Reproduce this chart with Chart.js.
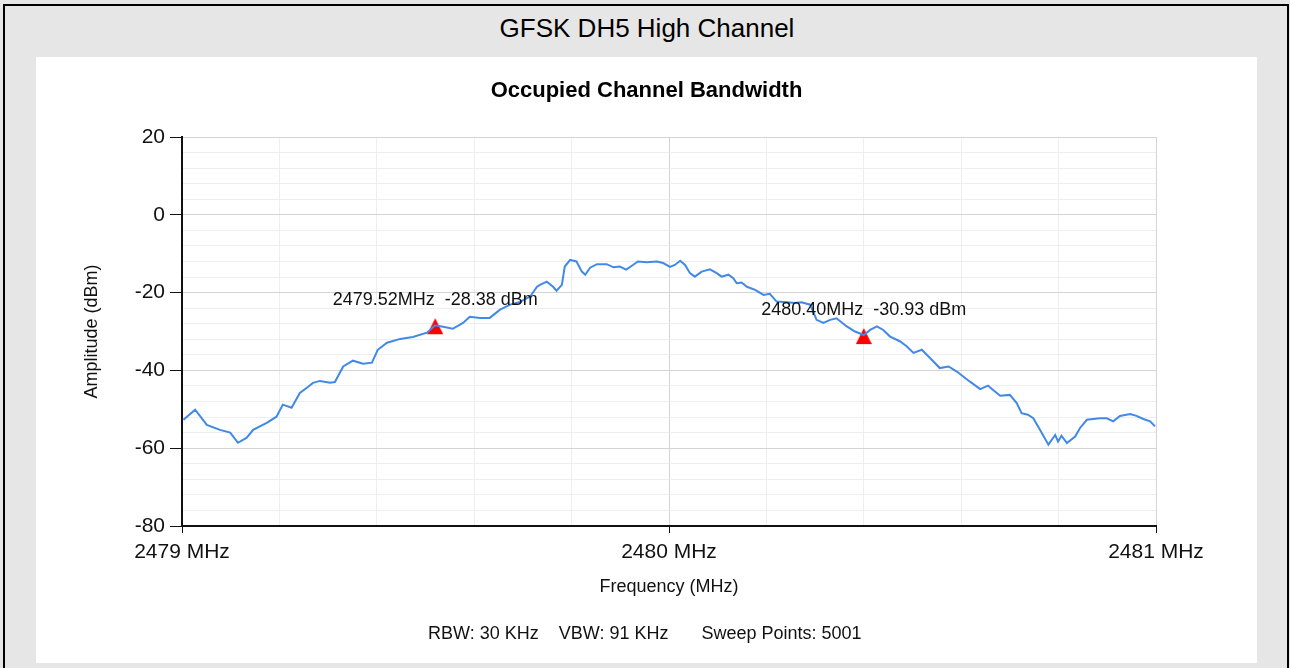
<!DOCTYPE html>
<html>
<head>
<meta charset="utf-8">
<script src="https://cdn.jsdelivr.net/npm/chart.js@4.4.1/dist/chart.umd.min.js"></script>
<style>
  html, body { margin:0; padding:0; }
  body { width:1290px; height:668px; background:#e6e6e6; position:relative; overflow:hidden; font-family:"Liberation Sans", Arial, sans-serif; }
  #frame { position:absolute; left:3px; top:4px; width:1282px; height:700px; border:2px solid #000; border-bottom:none; }
  #pageTitle { position:absolute; left:0; width:1294px; top:13px; height:30px; line-height:30px; text-align:center; font-size:26px; color:#000; }
  #panel { position:absolute; left:36px; top:57px; width:1221px; height:606px; background:#fff; }
  #chartTitle { position:absolute; left:36px; width:1221px; top:77px; height:26px; line-height:26px; text-align:center; font-size:22px; font-weight:bold; color:#000; }
  #footer { position:absolute; left:428px; top:623px; height:20px; line-height:20px; font-size:18px; color:#111; white-space:pre; }
</style>
</head>
<body>
<div id="frame"></div>
<div id="pageTitle">GFSK DH5 High Channel</div>
<div id="panel"><canvas id="c"></canvas></div>
<div id="chartTitle"></div>
<div id="footer"><span>RBW: 30 KHz</span><span style="margin-left:20px">VBW: 91 KHz</span><span style="margin-left:33px">Sweep Points: 5001</span></div>
<script>
// ---- data ----
const chartTitle = 'Occupied Channel Bandwidth';
const xAxisTitle = 'Frequency (MHz)';
const yAxisTitle = 'Amplitude (dBm)';

const freqs = [2479.003, 2479.027, 2479.051, 2479.078, 2479.099, 2479.115, 2479.133, 2479.146, 2479.174, 2479.194,
  2479.207, 2479.225, 2479.242, 2479.259, 2479.269, 2479.283, 2479.304, 2479.314, 2479.331, 2479.351,
  2479.372, 2479.390, 2479.402, 2479.421, 2479.448, 2479.474, 2479.503, 2479.520, 2479.536, 2479.556,
  2479.577, 2479.591, 2479.612, 2479.632, 2479.653, 2479.674, 2479.694, 2479.715, 2479.729, 2479.735,
  2479.749, 2479.762, 2479.769, 2479.780, 2479.786, 2479.797, 2479.810, 2479.821, 2479.828, 2479.838,
  2479.852, 2479.872, 2479.886, 2479.899, 2479.912, 2479.926, 2479.936, 2479.954, 2479.975, 2479.988,
  2480.002, 2480.012, 2480.023, 2480.033, 2480.043, 2480.053, 2480.067, 2480.084, 2480.098, 2480.108,
  2480.122, 2480.132, 2480.139, 2480.149, 2480.160, 2480.177, 2480.194, 2480.207, 2480.221, 2480.242,
  2480.259, 2480.272, 2480.290, 2480.303, 2480.317, 2480.331, 2480.344, 2480.365, 2480.382, 2480.400,
  2480.413, 2480.427, 2480.440, 2480.454, 2480.474, 2480.488, 2480.502, 2480.519, 2480.536, 2480.556,
  2480.574, 2480.591, 2480.618, 2480.639, 2480.655, 2480.665, 2480.680, 2480.700, 2480.714, 2480.724,
  2480.737, 2480.748, 2480.762, 2480.779, 2480.793, 2480.799, 2480.806, 2480.817, 2480.834, 2480.844,
  2480.858, 2480.871, 2480.885, 2480.899, 2480.912, 2480.926, 2480.947, 2480.960, 2480.974, 2480.988,
  2480.998];

const amps = [-52.7, -50.1, -54.0, -55.3, -56.0, -58.6, -57.3, -55.3, -53.5, -51.9,
  -48.8, -49.6, -45.8, -44.2, -43.2, -42.7, -43.2, -43.0, -39.0, -37.5,
  -38.3, -38.0, -34.7, -32.9, -31.9, -31.4, -30.3, -28.4, -28.8, -29.3,
  -27.8, -26.2, -26.5, -26.5, -24.4, -23.1, -22.4, -21.0, -18.5, -18.0,
  -17.2, -18.5, -19.5, -18.0, -13.3, -11.6, -12.0, -14.6, -15.4, -13.6,
  -12.7, -12.7, -13.5, -13.3, -14.1, -12.9, -12.0, -12.2, -12.0, -12.4,
  -13.4, -12.9, -11.8, -12.9, -15.0, -15.9, -14.6, -14.0, -15.0, -15.9,
  -15.4, -16.3, -17.6, -17.4, -18.5, -19.3, -20.6, -20.3, -22.3, -22.5,
  -22.7, -22.5, -23.1, -27.0, -27.8, -27.0, -26.6, -28.7, -30.0, -30.9,
  -29.6, -28.7, -29.6, -31.3, -32.5, -33.8, -35.5, -34.7, -36.8, -39.4,
  -39.0, -40.3, -42.9, -44.8, -43.9, -45.0, -46.5, -46.3, -48.4, -51.0,
  -51.4, -52.3, -55.3, -59.1, -56.6, -58.3, -56.8, -58.7, -57.0, -54.8,
  -52.7, -52.5, -52.3, -52.3, -53.1, -51.7, -51.2, -51.7, -52.5, -53.1,
  -54.4];

const markerFreqs = [2479.52, 2480.40];
const markerAmps = [-28.38, -30.93];

const xMin = 2479, xMax = 2481, xStep = 0.2;
const yMin = -80, yMax = 20, yStep = 4, yLabelStep = 20;

// ---- build ----
document.getElementById('chartTitle').textContent = chartTitle;
const FONT = '"Liberation Sans", Arial, sans-serif';
const traceData = freqs.map((f, i) => ({x: f, y: amps[i]}));
const markerData = markerFreqs.map((f, i) => ({x: f, y: markerAmps[i]}));
const isInt = v => Math.abs(v - Math.round(v)) < 1e-6;

// red triangle marker, drawn slightly below its point (as in the analyser plot)
const tri = document.createElement('canvas');
tri.width = 16; tri.height = 34;
(function () {
  const t = tri.getContext('2d');
  t.fillStyle = '#ff0000';
  t.beginPath(); t.moveTo(8, 10); t.lineTo(16, 26); t.lineTo(0, 26); t.closePath(); t.fill();
})();

const markerLabels = {
  id: 'markerLabels',
  afterDatasetsDraw(chart) {
    const ctx = chart.ctx, xs = chart.scales.x, ys = chart.scales.y;
    ctx.save();
    ctx.font = '18px ' + FONT;
    ctx.fillStyle = '#111';
    ctx.textAlign = 'center';
    ctx.textBaseline = 'middle';
    markerFreqs.forEach((f, i) => {
      const px = xs.getPixelForValue(f), py = ys.getPixelForValue(markerAmps[i]);
      ctx.fillText(f.toFixed(2) + 'MHz  ' + markerAmps[i].toFixed(2) + ' dBm', px, py - 25);
    });
    ctx.restore();
  }
};

new Chart(document.getElementById('c'), {
  type: 'scatter',
  data: {
    datasets: [
      { data: traceData, showLine: true, borderColor: '#4189e6', borderWidth: 2, pointRadius: 0, tension: 0, fill: false },
      { data: markerData, showLine: false, pointStyle: tri, pointRadius: 10 }
    ]
  },
  options: {
    responsive: true,
    maintainAspectRatio: false,
    animation: false,
    layout: { padding: { left: 0, right: 101, top: 80, bottom: 0 } },
    plugins: {
      legend: { display: false },
      tooltip: { enabled: false },
      title: { display: false }
    },
    scales: {
      x: {
        type: 'linear', min: xMin, max: xMax,
        afterFit(s) { s.height = 137; },
        border: { color: '#111', width: 2 },
        grid: {
          color: c => { const v = c.tick ? c.tick.value : 0; return isInt(v) ? '#d4d4d4' : '#eeeeee'; },
          tickColor: c => (c.tick && isInt(c.tick.value)) ? '#111' : 'rgba(0,0,0,0)',
          tickLength: 7
        },
        ticks: {
          stepSize: xStep, autoSkip: false, maxRotation: 0, padding: 7,
          color: '#111', font: { family: FONT, size: 21 },
          callback: v => isInt(v) ? Math.round(v) + ' MHz' : ''
        },
        title: { display: true, text: xAxisTitle, color: '#111', font: { family: FONT, size: 18 }, padding: { top: 0, bottom: 65 } }
      },
      y: {
        type: 'linear', min: yMin, max: yMax,
        afterFit(s) { s.width = 146; },
        border: { color: '#111', width: 2 },
        grid: {
          color: c => { const v = c.tick ? c.tick.value : 0; return (v % yLabelStep === 0) ? '#d4d4d4' : '#eeeeee'; },
          tickColor: c => (c.tick && c.tick.value % yLabelStep === 0) ? '#111' : 'rgba(0,0,0,0)',
          tickLength: 12
        },
        ticks: {
          stepSize: yStep, autoSkip: false, padding: 5,
          color: '#111', font: { family: FONT, size: 21 },
          callback: v => (v % yLabelStep === 0) ? String(v) : ''
        },
        title: { display: true, text: yAxisTitle, color: '#111', font: { family: FONT, size: 18 }, padding: { top: 45, bottom: 0 } }
      }
    }
  },
  plugins: [markerLabels]
});
</script>
</body>
</html>
